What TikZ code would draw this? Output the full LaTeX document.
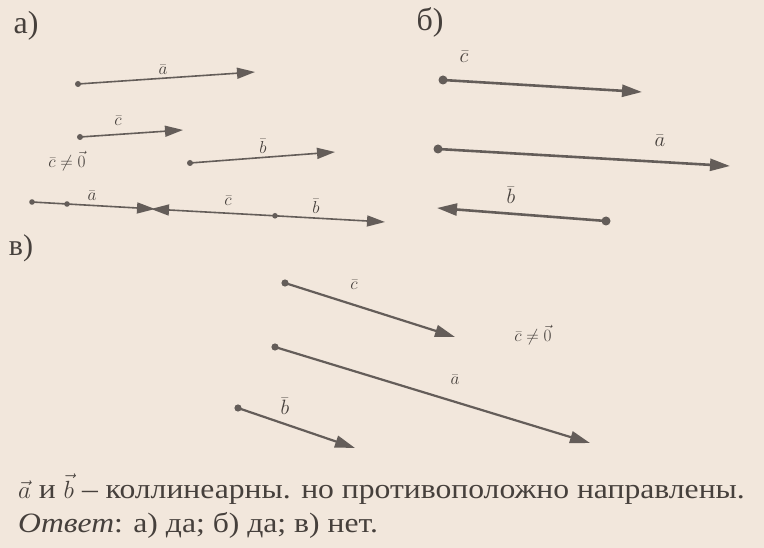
\documentclass[tikz,border=0pt]{standalone}
\usepackage{fontspec}
\setmainfont{Liberation Serif}
\newfontfamily\textserif[FakeStretch=1.13]{Liberation Serif}
\usetikzlibrary{arrows.meta}
\definecolor{paper}{RGB}{242,231,220}
\definecolor{ink}{RGB}{100,93,89}
\definecolor{print}{RGB}{70,64,60}

\begin{document}
\begin{tikzpicture}[x=1pt,y=-1pt,
  vec/.style={draw=ink,line width=2.2pt,-{Triangle[length=20pt,width=12pt]}},
  thinvec/.style={vec,line width=1.6pt,-{Triangle[length=18pt,width=11pt]}},
  lbl/.style={text=print,inner sep=0pt,font=\fontsize{16}{16}\selectfont},
  biglbl/.style={lbl,font=\fontsize{21}{21}\selectfont},
  midlbl/.style={lbl,font=\fontsize{18}{18}\selectfont},
  part/.style={text=print,inner sep=0pt,font=\fontsize{32}{32}\selectfont}]
\fill[paper] (0,0) rectangle (764,548);

% panel a
\node[part] (pa) at (26,26) {а)};
\coordinate (a1) at (78,84);   \coordinate (a2) at (255,72);
\coordinate (c1) at (80,137);  \coordinate (c2) at (183,130);
\coordinate (b1) at (190,163); \coordinate (b2) at (335,152);
\draw[thinvec] (a1) -- (a2);
\draw[thinvec] (c1) -- (c2);
\draw[thinvec] (b1) -- (b2);
\foreach \p in {a1,c1,b1} \fill[ink] (\p) circle (3pt);
\node[lbl] (la) at (163,70) {$\bar a$};
\node[lbl] (lc) at (118,121) {$\bar c$};
\node[lbl] (lb) at (263,146) {$\bar b$};
\node[lbl] (nz) at (67,161) {$\bar c\neq\vec 0$};

% all three on one line
\coordinate (l0) at (32,202);  \coordinate (l1) at (67,204);
\coordinate (lm) at (155,209); \coordinate (ln) at (151,209);
\coordinate (l2) at (275,215.8); \coordinate (l3) at (385,222);
\draw[thinvec] (l0) -- (lm);
\draw[thinvec] (l2) -- (ln);
\draw[thinvec] (l2) -- (l3);
\foreach \p in {l0,l1,l2} \fill[ink] (\p) circle (2.8pt);
\node[lbl] (la2) at (92,196) {$\bar a$};
\node[lbl] (lc2) at (228,201) {$\bar c$};
\node[lbl] (lb2) at (316,206) {$\bar b$};

% panel b
\node[part] (pb) at (430,22) {б)};
\coordinate (bc1) at (443,80);  \coordinate (bc2) at (642,92);
\coordinate (ba1) at (438,149); \coordinate (ba2) at (730,166);
\coordinate (bb1) at (606,221); \coordinate (bb2) at (437,208);
\draw[vec,line width=2.6pt] (bc1) -- (bc2);
\draw[vec,line width=2.6pt] (ba1) -- (ba2);
\draw[vec,line width=2.6pt] (bb1) -- (bb2);
\foreach \p in {bc1,ba1,bb1} \fill[ink] (\p) circle (4.5pt);
\node[biglbl] (blc) at (464,57) {$\bar c$};
\node[biglbl] (bla) at (660,141) {$\bar a$};
\node[biglbl] (blb) at (511,195) {$\bar b$};

% panel v
\node[part,font=\fontsize{30}{30}\selectfont] (pv) at (21,248) {в)};
\coordinate (vc1) at (285,283); \coordinate (vc2) at (455,337);
\coordinate (va1) at (275,347); \coordinate (va2) at (590,443);
\coordinate (vb1) at (238,408); \coordinate (vb2) at (355,448);
\draw[vec] (vc1) -- (vc2);
\draw[vec] (va1) -- (va2);
\draw[vec] (vb1) -- (vb2);
\foreach \p in {vc1,va1,vb1} \fill[ink] (\p) circle (3.6pt);
\node[midlbl] (vlc) at (354,285) {$\bar c$};
\node[midlbl] (vla) at (455,380) {$\bar a$};
\node[midlbl,font=\fontsize{20}{20}\selectfont] (vlb) at (285,406) {$\bar b$};
\node[midlbl] (vnz) at (533,335) {$\bar c\neq\vec 0$};

% answer
\node[text=print,inner sep=0pt,anchor=base west,font=\textserif\fontsize{28}{28}\selectfont] (t1) at (18,498)
  {$\vec a$ и $\vec b$ – коллинеарны. но противоположно направлены.};
\node[text=print,inner sep=0pt,anchor=base west,font=\textserif\fontsize{28}{28}\selectfont] (t2) at (18,532)
  {\textit{Ответ}: а) да; б) да; в) нет.};
\end{tikzpicture}
\end{document}
